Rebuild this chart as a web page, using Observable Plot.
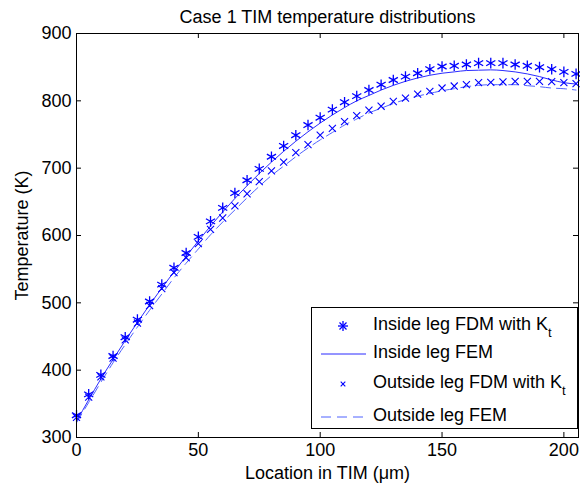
<!DOCTYPE html>
<html>
<head>
<meta charset="utf-8">
<script src="https://cdn.jsdelivr.net/npm/d3@7"></script>
<script src="https://cdn.jsdelivr.net/npm/@observablehq/plot@0.6"></script>
<style>
  html, body { margin: 0; padding: 0; background: #fff; }
  #wrap { position: relative; width: 580px; height: 486px; font-family: "Liberation Sans", Arial, Helvetica, sans-serif; }
  #legend { position: absolute; left: 311px; top: 307px; width: 267px; height: 122px; border: 1px solid #000; background: #fff; box-sizing: border-box; font-size: 18px; color: #000; }
  .row { position: absolute; left: 0; height: 30px; }
  .row svg { position: absolute; left: 8px; top: 5px; }
  .row span { position: absolute; left: 61px; top: 3px; white-space: nowrap; line-height: 20px; }
  sub { font-size: 13px; vertical-align: -7px; line-height: 0; }
</style>
</head>
<body>
<div id="wrap"></div>
<script>
// ---- data ----
const location_um = [0,5,10,15,20,25,30,35,40,45,50,55,60,65,70,75,80,85,90,95,100,105,110,115,120,125,130,135,140,145,150,155,160,165,170,175,180,185,190,195,200,205];
const insideFDM  = [333,364,393,421,449,475,502,527,552,574,598,621,641,663,682,699,717,733,749,764,775,787,798,807,816,824,831,836,841,847,851,852,854,856,856,856,854,852,850,847,843,840];
const insideFEM  = [324,356,387,416,444,471,497,522,546,569,592,614,635,655,674,692,709,725,740,754,767,779,790,800,808,816,823,829,834,838,841,843,845,845.5,846,845,843,840,836,831,827,825];
const outsideFDM = [330,360,390,418,445,470,496,521,545,567,588,609,626,644,662,680,696,709,723,735,749,759,769,778,786,792,799,804,810,814,819,822,824,827,827.5,828,829,829,829,828.5,827,825.5];
const outsideFEM = [322,352,382,411,438,464,489,513,537,559,580,601,620,638,656,673,689,703,717,730,742,753,764,773,782,789,796,802,807,811,815,818,821,823,824,824,824,822.5,821,819,818,816];
const xTicks = [0,50,100,150,200];
const yTicks = [300,400,500,600,700,800,900];
const titleText = "Case 1 TIM temperature distributions";
const xLabel = "Location in TIM (\u03bcm)";
const yLabel = "Temperature (K)";
const legendLabels = ["Inside leg FDM with K", "Inside leg FEM", "Outside leg FDM with K", "Outside leg FEM"];

const rows = location_um.map((x, i) => ({x, inFDM: insideFDM[i], inFEM: insideFEM[i], outFDM: outsideFDM[i], outFEM: outsideFEM[i]}));

const W = 580, H = 486, mL = 76, mR = 2, mT = 33, mB = 49;
const pw = W - mL - mR, ph = H - mT - mB;
const tk = 5;

const chart = Plot.plot({
  width: W, height: H,
  marginLeft: mL, marginRight: mR, marginTop: mT, marginBottom: mB,
  style: {fontFamily: "Liberation Sans, Arial, Helvetica, sans-serif", fontSize: "18px", background: "#fff", color: "#000"},
  x: {domain: [0, 206]},
  y: {domain: [300, 900]},
  marks: [
    Plot.line(rows, {x: "x", y: "outFEM", stroke: "#4f62ff", strokeWidth: 1, strokeDasharray: "10,6", curve: "monotone-x"}),
    Plot.line(rows, {x: "x", y: "inFEM", stroke: "#2b2bff", strokeWidth: 1, curve: "monotone-x"}),
    Plot.dot(rows, {x: "x", y: "inFDM", symbol: "asterisk", r: 5, stroke: "#0000ff", strokeWidth: 1.3}),
    Plot.dot(rows, {x: "x", y: "outFDM", symbol: "times", r: 3.3, stroke: "#0000ff", strokeWidth: 1.1}),
    Plot.frame({stroke: "#000", strokeWidth: 1}),
    Plot.tickX(xTicks, {x: d => d, insetTop: ph - tk, stroke: "#000"}),
    Plot.tickX(xTicks, {x: d => d, insetBottom: ph - tk, stroke: "#000"}),
    Plot.tickY(yTicks, {y: d => d, insetRight: pw - tk, stroke: "#000"}),
    Plot.tickY(yTicks, {y: d => d, insetLeft: pw - tk, stroke: "#000"}),
    Plot.axisX(xTicks, {tickSize: 0, tickPadding: 6, fontSize: 18, label: xLabel, labelAnchor: "center", labelArrow: "none", labelOffset: 41}),
    Plot.axisY(yTicks, {tickSize: 0, tickPadding: 5, fontSize: 18, label: yLabel, labelAnchor: "center", labelArrow: "none", labelOffset: 61}),
    Plot.text([titleText], {frameAnchor: "top", dy: -23, fontSize: 18, fill: "#000"})
  ]
});

const wrap = document.getElementById("wrap");
wrap.appendChild(chart);

// legend overlay
const lg = document.createElement("div");
lg.id = "legend";
const sym = [
  `<svg width="46" height="20"><g stroke="#0000ff" stroke-width="1.3"><line x1="23" y1="5" x2="23" y2="15"/><line x1="18" y1="10" x2="28" y2="10"/><line x1="19.5" y1="6.5" x2="26.5" y2="13.5"/><line x1="19.5" y1="13.5" x2="26.5" y2="6.5"/></g></svg>`,
  `<svg width="46" height="20"><line x1="1" y1="10" x2="46" y2="10" stroke="#2b2bff" stroke-width="1"/></svg>`,
  `<svg width="46" height="20"><g stroke="#0000ff" stroke-width="1.1"><line x1="20.7" y1="7.7" x2="25.3" y2="12.3"/><line x1="20.7" y1="12.3" x2="25.3" y2="7.7"/></g></svg>`,
  `<svg width="46" height="20"><line x1="1" y1="10" x2="46" y2="10" stroke="#4f62ff" stroke-width="1" stroke-dasharray="10,6"/></svg>`
];
const tops = [3, 31, 61, 94];
legendLabels.forEach((t, i) => {
  const r = document.createElement("div");
  r.className = "row";
  r.style.top = tops[i] + "px";
  const txt = (i === 0 || i === 2) ? `${t}<sub>t</sub>` : t;
  r.innerHTML = sym[i] + `<span>${txt}</span>`;
  lg.appendChild(r);
});
wrap.appendChild(lg);
</script>
</body>
</html>
